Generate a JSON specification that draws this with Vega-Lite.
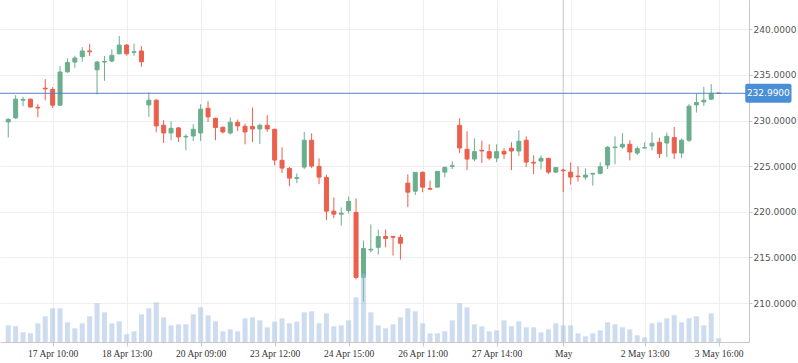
{
  "$schema": "https://vega.github.io/schema/vega-lite/v6.json",
  "width": 749,
  "height": 342,
  "autosize": {"type": "none"},
  "padding": {"left": 0, "top": 0, "right": 49, "bottom": 21},
  "background": "white",
  "config": {"view": {"stroke": null}},
  "data": {"values": [
    {"i":0,"o":229.85,"h":230.22,"l":228.13,"c":230.14,"v":167000},
    {"i":1,"o":230.29,"h":232.78,"l":230.2,"c":232.34,"v":157000},
    {"i":2,"o":232.23,"h":232.59,"l":231.57,"c":232.31,"v":97000},
    {"i":3,"o":232.34,"h":232.42,"l":231.38,"c":231.49,"v":87000},
    {"i":4,"o":231.45,"h":231.79,"l":230.36,"c":231.38,"v":187000},
    {"i":5,"o":233.55,"h":234.54,"l":232.23,"c":233.47,"v":257000},
    {"i":6,"o":233.41,"h":233.66,"l":231.38,"c":231.68,"v":337000},
    {"i":7,"o":231.68,"h":235.97,"l":231.6,"c":235.31,"v":337000},
    {"i":8,"o":235.34,"h":236.81,"l":235.23,"c":236.37,"v":197000},
    {"i":9,"o":236.41,"h":237.1,"l":235.78,"c":236.85,"v":137000},
    {"i":10,"o":236.99,"h":238.05,"l":236.44,"c":237.62,"v":187000},
    {"i":11,"o":237.62,"h":238.38,"l":237.07,"c":237.54,"v":257000},
    {"i":12,"o":235.56,"h":236.55,"l":232.86,"c":236.41,"v":387000},
    {"i":13,"o":236.41,"h":237.07,"l":234.35,"c":236.48,"v":297000},
    {"i":14,"o":236.52,"h":237.8,"l":236.37,"c":237.14,"v":187000},
    {"i":15,"o":237.32,"h":239.26,"l":237.25,"c":238.27,"v":207000},
    {"i":16,"o":238.27,"h":238.38,"l":237.1,"c":237.32,"v":77000},
    {"i":17,"o":237.47,"h":238.42,"l":237.1,"c":237.54,"v":107000},
    {"i":18,"o":237.62,"h":238.16,"l":235.89,"c":236.44,"v":277000},
    {"i":19,"o":231.71,"h":233.08,"l":230.4,"c":232.23,"v":337000},
    {"i":20,"o":232.23,"h":232.34,"l":228.71,"c":229.41,"v":397000},
    {"i":21,"o":229.48,"h":230.03,"l":227.54,"c":228.64,"v":247000},
    {"i":22,"o":228.64,"h":229.92,"l":227.84,"c":229.15,"v":167000},
    {"i":23,"o":229.19,"h":229.3,"l":227.65,"c":228.2,"v":177000},
    {"i":24,"o":228.2,"h":228.49,"l":226.74,"c":228.27,"v":177000},
    {"i":25,"o":228.31,"h":229.59,"l":227.76,"c":229.04,"v":277000},
    {"i":26,"o":228.64,"h":231.79,"l":227.76,"c":231.24,"v":347000},
    {"i":27,"o":231.35,"h":232.12,"l":229.85,"c":230.4,"v":267000},
    {"i":28,"o":230.25,"h":230.3,"l":227.84,"c":229.23,"v":207000},
    {"i":29,"o":229.26,"h":229.34,"l":228.57,"c":228.75,"v":107000},
    {"i":30,"o":228.64,"h":230.33,"l":228.46,"c":229.81,"v":127000},
    {"i":31,"o":229.81,"h":230.11,"l":228.86,"c":229.41,"v":107000},
    {"i":32,"o":229.37,"h":229.67,"l":227.4,"c":228.75,"v":237000},
    {"i":33,"o":229.34,"h":231.43,"l":227.65,"c":229.08,"v":247000},
    {"i":34,"o":229.08,"h":229.67,"l":227.43,"c":229.48,"v":217000},
    {"i":35,"o":229.48,"h":230.58,"l":228.75,"c":229.08,"v":147000},
    {"i":36,"o":229.04,"h":229.1,"l":225.09,"c":225.67,"v":203000},
    {"i":37,"o":225.64,"h":227.07,"l":224.24,"c":224.79,"v":237000},
    {"i":38,"o":224.76,"h":224.9,"l":222.81,"c":223.69,"v":187000},
    {"i":39,"o":223.66,"h":224.21,"l":223.14,"c":223.74,"v":203000},
    {"i":40,"o":224.9,"h":228.75,"l":224.68,"c":227.84,"v":297000},
    {"i":41,"o":227.84,"h":228.6,"l":224.79,"c":225.01,"v":307000},
    {"i":42,"o":224.98,"h":225.86,"l":223.03,"c":223.8,"v":187000},
    {"i":43,"o":223.77,"h":224.07,"l":219.08,"c":220.07,"v":287000},
    {"i":44,"o":220.07,"h":221.57,"l":219.3,"c":219.74,"v":157000},
    {"i":45,"o":219.74,"h":220.47,"l":218.49,"c":219.85,"v":167000},
    {"i":46,"o":220.14,"h":221.68,"l":219.81,"c":221.13,"v":217000},
    {"i":47,"o":219.92,"h":221.46,"l":212.59,"c":212.81,"v":447000},
    {"i":48,"o":212.81,"h":216.85,"l":210.14,"c":215.97,"v":683000},
    {"i":49,"o":215.82,"h":218.6,"l":215.56,"c":215.89,"v":297000},
    {"i":50,"o":216.11,"h":218.05,"l":215.31,"c":217.29,"v":167000},
    {"i":51,"o":217.29,"h":218.05,"l":216.11,"c":217.07,"v":137000},
    {"i":52,"o":217.29,"h":217.36,"l":215.2,"c":217.21,"v":177000},
    {"i":53,"o":217.18,"h":217.51,"l":214.76,"c":216.55,"v":247000},
    {"i":54,"o":223.14,"h":224.1,"l":220.51,"c":222.15,"v":337000},
    {"i":55,"o":222.26,"h":224.35,"l":221.82,"c":224.32,"v":307000},
    {"i":56,"o":224.32,"h":224.43,"l":222.15,"c":222.7,"v":187000},
    {"i":57,"o":222.56,"h":223.44,"l":222.37,"c":222.48,"v":87000},
    {"i":58,"o":222.7,"h":224.43,"l":222.65,"c":224.43,"v":87000},
    {"i":59,"o":224.35,"h":224.98,"l":223.8,"c":224.87,"v":107000},
    {"i":60,"o":224.98,"h":225.53,"l":224.68,"c":225.05,"v":217000},
    {"i":61,"o":229.48,"h":230.25,"l":226.44,"c":226.99,"v":387000},
    {"i":62,"o":226.85,"h":228.82,"l":224.57,"c":225.78,"v":347000},
    {"i":63,"o":225.78,"h":228.05,"l":225.53,"c":226.59,"v":177000},
    {"i":64,"o":226.74,"h":227.8,"l":225.34,"c":226.66,"v":157000},
    {"i":65,"o":226.59,"h":227.4,"l":225.64,"c":225.89,"v":107000},
    {"i":66,"o":225.89,"h":227.4,"l":225.45,"c":226.59,"v":117000},
    {"i":67,"o":226.63,"h":226.96,"l":225.78,"c":226.33,"v":217000},
    {"i":68,"o":226.96,"h":227.62,"l":224.57,"c":226.66,"v":157000},
    {"i":69,"o":226.66,"h":228.93,"l":226.11,"c":227.73,"v":207000},
    {"i":70,"o":227.84,"h":228.27,"l":224.9,"c":225.45,"v":147000},
    {"i":71,"o":225.42,"h":226.19,"l":224.13,"c":225.34,"v":147000},
    {"i":72,"o":225.56,"h":226.19,"l":224.65,"c":225.86,"v":97000},
    {"i":73,"o":225.86,"h":225.9,"l":224.13,"c":224.35,"v":127000},
    {"i":74,"o":224.35,"h":224.87,"l":224.24,"c":224.84,"v":187000},
    {"i":75,"o":224.57,"h":224.73,"l":222.15,"c":224.5,"v":167000},
    {"i":76,"o":224.35,"h":225.42,"l":222.97,"c":223.8,"v":167000},
    {"i":77,"o":223.91,"h":224.98,"l":223.33,"c":223.85,"v":87000},
    {"i":78,"o":223.8,"h":224.76,"l":223.52,"c":224.02,"v":57000},
    {"i":79,"o":224.13,"h":224.21,"l":222.86,"c":224.21,"v":87000},
    {"i":80,"o":224.21,"h":225.42,"l":224.1,"c":224.94,"v":117000},
    {"i":81,"o":225.12,"h":227.21,"l":224.68,"c":227.07,"v":197000},
    {"i":82,"o":227.03,"h":228.27,"l":225.23,"c":227.1,"v":177000},
    {"i":83,"o":227.1,"h":228.64,"l":226.92,"c":227.4,"v":147000},
    {"i":84,"o":227.4,"h":227.84,"l":225.64,"c":226.55,"v":127000},
    {"i":85,"o":226.44,"h":227.18,"l":226.22,"c":226.92,"v":67000},
    {"i":86,"o":226.99,"h":227.62,"l":226.92,"c":227.03,"v":47000},
    {"i":87,"o":227.21,"h":228.71,"l":226.74,"c":227.51,"v":187000},
    {"i":88,"o":227.62,"h":228.13,"l":225.89,"c":226.37,"v":197000},
    {"i":89,"o":227.54,"h":228.68,"l":226.0,"c":228.27,"v":237000},
    {"i":90,"o":228.13,"h":229.3,"l":225.78,"c":226.44,"v":267000},
    {"i":91,"o":226.44,"h":228.02,"l":225.89,"c":227.84,"v":197000},
    {"i":92,"o":227.84,"h":231.79,"l":227.65,"c":231.57,"v":237000},
    {"i":93,"o":231.71,"h":232.97,"l":230.88,"c":231.98,"v":257000},
    {"i":94,"o":232.04,"h":233.69,"l":231.6,"c":232.23,"v":167000},
    {"i":95,"o":232.34,"h":233.99,"l":232.23,"c":232.97,"v":287000},
    {"i":96,"o":233.0,"h":233.01,"l":232.98,"c":232.99,"v":37000}
  ]},
  "layer": [
    {
      "layer": [
        {
          "data": {"values": [{"t": 75}]},
          "mark": {"type": "rule", "color": "#c6c6c6", "strokeWidth": 1},
          "encoding": {
            "x": {"field": "t", "type": "quantitative"}
          }
        },
        {
          "mark": {"type": "rule", "strokeWidth": 1},
          "encoding": {
            "x": {
              "field": "i", "type": "quantitative",
              "scale": {"domain": [-0.44, 99.43], "nice": false, "zero": false},
              "axis": {
                "orient": "bottom", "title": null, "grid": false,
                "values": [6, 16, 26, 36, 46, 56, 66, 75, 86, 96],
                "labelExpr": "datum.value == 6 ? '17 Apr 10:00' : datum.value == 16 ? '18 Apr 13:00' : datum.value == 26 ? '20 Apr 09:00' : datum.value == 36 ? '23 Apr 12:00' : datum.value == 46 ? '24 Apr 15:00' : datum.value == 56 ? '26 Apr 11:00' : datum.value == 66 ? '27 Apr 14:00' : datum.value == 75 ? 'May' : datum.value == 86 ? '2 May 13:00' : '3 May 16:00'",
                "domainColor": "#c8c8c8", "tickColor": "#c8c8c8", "tickSize": 4,
                "labelFont": "Liberation Serif", "labelFontSize": 9.5, "labelColor": "#333333",
                "labelPadding": 2, "labelFlush": false, "labelOverlap": false
              }
            },
            "y": {
              "field": "l", "type": "quantitative",
              "scale": {"domain": [205.73, 243.21], "nice": false, "zero": false},
              "axis": {
                "orient": "right", "title": null, "grid": true, "gridColor": "#eeeeee",
                "values": [210, 215, 220, 225, 230, 235, 240], "format": ".4f",
                "domainColor": "#c8c8c8", "tickColor": "#c8c8c8", "tickSize": 3,
                "labelPadding": 1, "labelFont": "DejaVu Sans", "labelFontSize": 9,
                "labelColor": "#555555", "labelFlush": false, "labelOverlap": false
              }
            },
            "y2": {"field": "h"},
            "color": {"condition": {"test": "datum.c >= datum.o", "value": "#6aae8e"}, "value": "#eb5f4c"}
          }
        },
        {
          "mark": {"type": "bar", "size": 4, "strokeWidth": 1},
          "encoding": {
            "x": {"field": "i", "type": "quantitative"},
            "y": {"field": "o", "type": "quantitative"},
            "y2": {"field": "c"},
            "color": {"condition": {"test": "datum.c >= datum.o", "value": "#6aae8e"}, "value": "#eb5f4c"},
            "stroke": {"condition": {"test": "datum.c >= datum.o", "value": "#6aae8e"}, "value": "#eb5f4c"}
          }
        },
        {
          "data": {"values": [{"p": 232.99}]},
          "mark": {"type": "rule", "color": "#4d84c4", "strokeWidth": 1},
          "encoding": {
            "y": {"field": "p", "type": "quantitative"}
          }
        },
        {
          "data": {"values": [{"p": 232.99}]},
          "mark": {"type": "rect", "color": "#4a8fd6", "cornerRadius": 2, "yOffset": -9.5, "y2Offset": 9.5},
          "encoding": {
            "x": {"datum": 99.6, "type": "quantitative"},
            "x2": {"datum": 105.85},
            "y": {"field": "p", "type": "quantitative"},
            "y2": {"field": "p"}
          }
        },
        {
          "data": {"values": [{"p": 232.99}]},
          "mark": {"type": "text", "color": "#ffffff", "font": "DejaVu Sans", "fontSize": 9, "align": "center", "baseline": "middle"},
          "encoding": {
            "x": {"datum": 102.72, "type": "quantitative"},
            "y": {"field": "p", "type": "quantitative"},
            "text": {"field": "p", "type": "quantitative", "format": ".4f"}
          }
        }
      ]
    },
    {
      "mark": {"type": "bar", "size": 5, "color": "#9bbadf", "opacity": 0.5},
      "encoding": {
        "x": {
          "field": "i", "type": "quantitative",
          "axis": {
            "orient": "bottom", "title": null, "grid": true, "gridColor": "#eeeeee",
            "values": [6, 16, 26, 36, 46, 56, 66, 76, 86, 96],
            "labels": false, "ticks": false, "domain": false
          }
        },
        "y": {"field": "v", "type": "quantitative", "scale": {"domain": [0, 3423000]}, "axis": null}
      }
    }
  ],
  "resolve": {"scale": {"y": "independent"}, "axis": {"x": "independent"}}
}
